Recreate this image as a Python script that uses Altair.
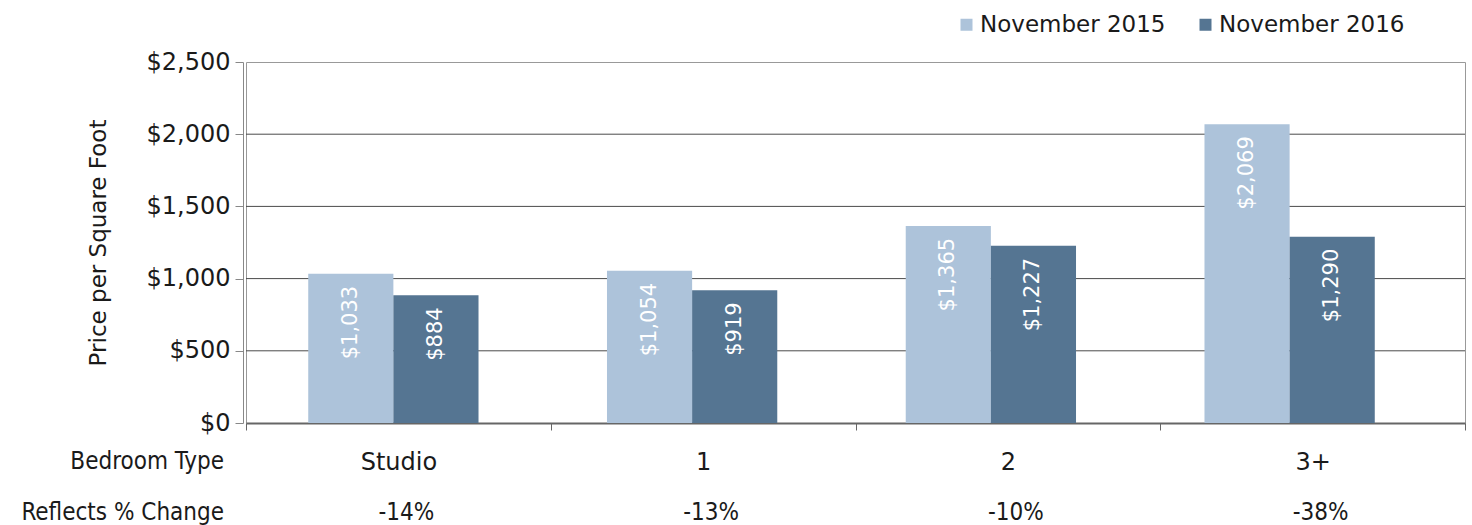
import altair as alt
import pandas as pd

# Manhattan price per square foot by bedroom type
bedroom_types = ["Studio", "1", "2", "3+"]
nov_2015 = [1033, 1054, 1365, 2069]
nov_2016 = [884, 919, 1227, 1290]
series_names = ["November 2015", "November 2016"]
series_colors = ["#ADC3DA", "#557592"]
y_ticks = [0, 500, 1000, 1500, 2000, 2500]
grid_levels = [500, 1000, 1500, 2000]

rows = []
for t, a, b in zip(bedroom_types, nov_2015, nov_2016):
    rows.append({"type": t, "series": series_names[0], "value": a})
    rows.append({"type": t, "series": series_names[1], "value": b})
bars_df = pd.DataFrame(rows)

# year-over-year change per bedroom type
change_df = pd.DataFrame({
    "type": bedroom_types,
    "pct": [f"{round((b / a - 1) * 100)}%" for a, b in zip(nov_2015, nov_2016)],
})
grid_df = pd.DataFrame({"value": grid_levels})

W, H = 1219, 361
MAIN = "DejaVu Sans"
COND = "'DejaVu Sans Condensed', 'Liberation Sans Narrow', 'Roboto Condensed', 'DejaVu Sans'"
INK = "#1a1a1a"

bar_x = alt.X(
    "type:N", sort=bedroom_types,
    scale=alt.Scale(domain=bedroom_types, range=[-2, 1193],
                    paddingInner=0.43, paddingOuter=0.215),
    axis=None,
)
bar_off = alt.XOffset("series:N", sort=series_names,
                      scale=alt.Scale(domain=series_names, paddingInner=0, paddingOuter=0))
bar_y = alt.Y(
    "value:Q",
    scale=alt.Scale(domain=[0, 2500], nice=False),
    axis=alt.Axis(
        values=y_ticks, format="$,.0f", grid=False,
        title="Price per Square Foot", titleFont=MAIN, titleFontSize=23,
        titleFontWeight="normal", titleColor=INK, titlePadding=36,
        labelFont=MAIN, labelFontSize=24, labelColor=INK, labelPadding=5,
        tickColor="#888", tickSize=8, domainColor="#888", offset=3,
    ),
)

# horizontal gridlines across the full plot width, behind the bars
grid = alt.Chart(grid_df).mark_rule(color="#4a4a4a", strokeWidth=1).encode(
    y=bar_y, x=alt.value(0), x2=alt.value(W),
)

bars = alt.Chart(bars_df).mark_bar().encode(
    x=bar_x,
    xOffset=bar_off,
    y=bar_y,
    color=alt.Color(
        "series:N", sort=series_names,
        scale=alt.Scale(domain=series_names, range=series_colors),
        legend=alt.Legend(
            title=None, orient="none", legendX=709, legendY=-49,
            direction="horizontal", symbolType="square", symbolSize=144,
            symbolStrokeWidth=0, symbolOpacity=1,
            labelFont=MAIN, labelFontSize=23, labelColor=INK, labelLimit=400,
            labelOffset=2, columnPadding=28,
        ),
    ),
)

bar_labels = alt.Chart(bars_df).mark_text(
    angle=270, align="right", baseline="middle", dx=-12,
    font=MAIN, fontSize=21, color="white",
).encode(
    x=bar_x,
    xOffset=bar_off,
    y=bar_y,
    text=alt.Text("value:Q", format="$,.0f"),
)

cat_x = alt.X(
    "type:N", sort=bedroom_types,
    scale=alt.Scale(domain=bedroom_types, paddingInner=0, paddingOuter=0),
    axis=alt.Axis(
        title=None, labelAngle=0, tickBand="extent", grid=False,
        domainColor="#666", domainWidth=2, tickColor="#666", tickSize=7,
        labelFont=MAIN, labelFontSize=24, labelColor=INK, labelPadding=20,
    ),
)

pct_row = alt.Chart(change_df).mark_text(
    font=COND, fontSize=24, color=INK, baseline="middle", dx=8,
).encode(x=cat_x, y=alt.value(451), text="pct:N")

one_row = alt.Data(values=[{}])
head_type = alt.Chart(one_row).mark_text(
    text="Bedroom Type", align="right", baseline="middle",
    font=COND, fontSize=24, color=INK,
).encode(x=alt.value(-22), y=alt.value(400))
head_pct = alt.Chart(one_row).mark_text(
    text="Reflects % Change", align="right", baseline="middle",
    font=COND, fontSize=24, color=INK,
).encode(x=alt.value(-22), y=alt.value(451))

chart = (
    alt.layer(grid, bars, bar_labels, pct_row, head_type, head_pct)
    .resolve_scale(x="independent")
    .properties(
        width=W, height=H,
        autosize=alt.AutoSizeParams(type="none"),
        padding={"left": 246, "top": 62, "right": 7, "bottom": 102},
        background="white",
    )
    .configure_view(stroke="#999", strokeWidth=1)
)

chart.save("out.html", embed_options={"renderer": "svg", "actions": False})
